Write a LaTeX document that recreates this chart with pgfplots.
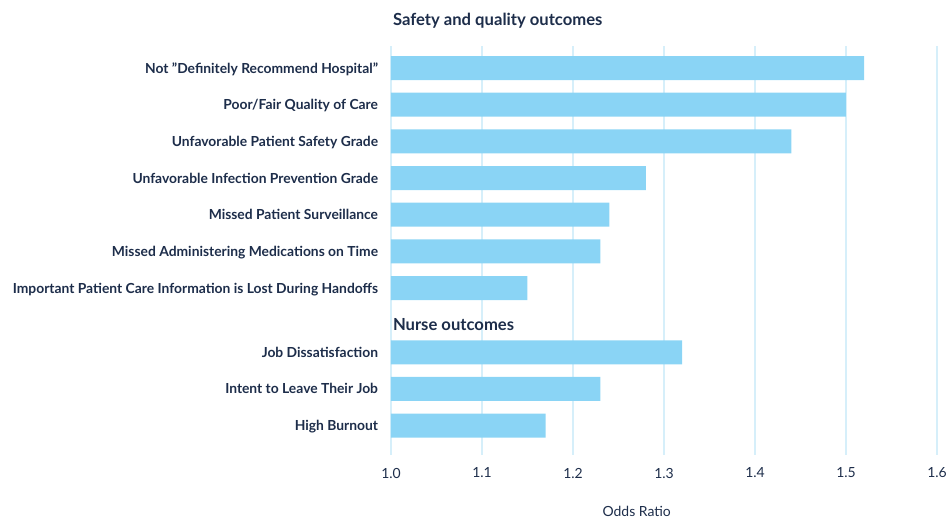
\documentclass[border=0pt]{standalone}
\usepackage{fontspec}
\setmainfont{Lato}
\usepackage{pgfplots}
\pgfplotsset{compat=1.18}
\definecolor{barblue}{HTML}{8AD4F5}
\definecolor{navy}{HTML}{1D2D4A}
\definecolor{gridblue}{HTML}{D6EFFA}
\begin{document}
\begin{tikzpicture}
\path[use as bounding box] (-391bp,-64bp) rectangle (556bp,455bp);
\begin{axis}[
  at={(0,0)}, anchor=south west,
  scale only axis, width=546bp, height=409bp,
  xmin=1, xmax=1.6, ymin=-0.6, ymax=10.55, y dir=reverse,
  xbar, bar width=24bp, bar shift=0pt,
  axis line style={draw=none}, tick style={draw=none},
  xmajorgrids, grid style={gridblue, line width=1.2bp},
  xtick={1,1.1,1.2,1.3,1.4,1.5,1.6},
  /pgf/number format/assume math mode=true,
  xticklabel={\pgfmathprintnumber[fixed,fixed zerofill,precision=1]{\tick}},
  xticklabel style={anchor=center, yshift=-18bp, inner sep=0pt, font=\fontsize{14}{16}\selectfont, text=navy},
  ytick={0,1,2,3,4,5,6,7.75,8.75,9.75},
  yticklabels={Not ”Definitely Recommend Hospital”, Poor/Fair Quality of Care, Unfavorable Patient Safety Grade, Unfavorable Infection Prevention Grade, Missed Patient Surveillance, Missed Administering Medications on Time, Important Patient Care Information is Lost During Handoffs, Job Dissatisfaction, Intent to Leave Their Job, High Burnout},
  yticklabel style={anchor=base east, inner sep=0pt, xshift=-8.5bp, yshift=-5bp, font=\bfseries\fontsize{13.9}{16}\selectfont, text=navy},
  xlabel={Odds Ratio},
  xlabel style={at={(axis description cs:0.45,-0.139)}, anchor=center, inner sep=0pt, font=\fontsize{14}{16}\selectfont, text=navy},
  after end axis/.code={
    \node[anchor=base west, inner sep=0pt, font=\bfseries\fontsize{16.7}{19}\selectfont, text=navy] at (axis cs:1.002,-1.146) {Safety and quality outcomes};
    \node[anchor=base west, inner sep=0pt, font=\bfseries\fontsize{16.7}{19}\selectfont, text=navy] at (axis cs:1.002,7.164) {Nurse outcomes};
  },
]
\addplot[fill=barblue, draw=none] coordinates {
  (1.52,0) (1.50,1) (1.44,2) (1.28,3) (1.24,4) (1.23,5) (1.15,6)
  (1.32,7.75) (1.23,8.75) (1.17,9.75)
};
\end{axis}
\end{tikzpicture}
\end{document}
